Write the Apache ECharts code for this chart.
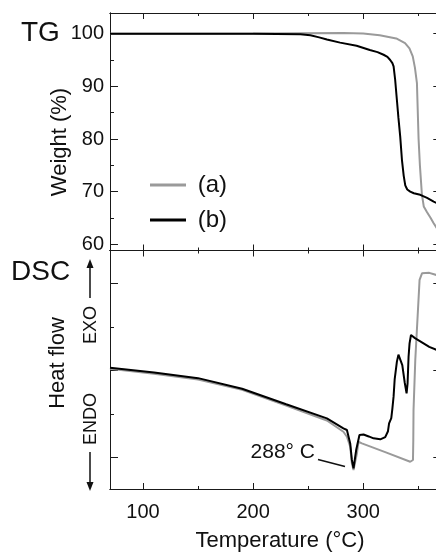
<!DOCTYPE html>
<html>
<head>
<meta charset="utf-8">
<script src="https://cdn.jsdelivr.net/npm/echarts@6.0.0/dist/echarts.min.js"></script>
<style>
  html, body { margin: 0; padding: 0; background: #fff; }
  #container { width: 436px; height: 552px; }
</style>
</head>
<body>
<div id="container"></div>
<script>
// TG curves, weight (%) against temperature (°C)
const tgTempA = [70, 150, 200, 240, 282, 300, 315, 330, 338, 342, 345, 347, 348.8, 350.3, 351.5, 353.3, 355, 358, 361, 364, 367];
const tgWeightA = [100, 100, 100.05, 100.1, 100.15, 100.05, 99.7, 99.1, 98.2, 97.2, 95.7, 93.5, 90.6, 80, 75, 69.5, 67.2, 66.1, 65.1, 64.0, 63.0];
const tgTempB = [70, 150, 200, 243, 252, 260, 267, 279, 294, 306, 313, 318.5, 322, 324.5, 326.5, 327.6, 329, 330.6, 332, 333.6, 335.2, 336.8, 338.2, 340, 342.7, 346, 351.8, 358, 364, 367];
const tgWeightB = [100, 100, 100, 99.9, 99.7, 99.3, 98.9, 98.3, 97.7, 96.9, 96.5, 96.0, 95.6, 95.0, 94.4, 93.8, 91.3, 87.4, 84, 80.5, 76, 73, 71.2, 70.4, 70.0, 69.7, 69.4, 68.8, 68.1, 67.8];

// DSC curves, heat flow (arbitrary units, one major tick = 1)
const dscTempA = [70, 110, 150, 190, 230, 267, 282, 285.2, 288.2, 289.7, 291.2, 292.7, 294.3, 295.7, 298.8, 320, 342.7, 345.2, 345.5, 345.7, 347.3, 351.2, 353.4, 354.8, 360, 367];
const dscA = [1.018, 0.96, 0.895, 0.775, 0.595, 0.423, 0.294, 0.237, 0.122, -0.069, -0.146, -0.126, 0.046, 0.179, 0.161, 0.06, -0.051, -0.031, 0.2, 0.54, 1.118, 2.04, 2.115, 2.133, 2.12, 2.093];
const dscTempB = [70, 110, 150, 190, 230, 267, 282, 285.2, 288.2, 289.7, 291.2, 293.6, 296.6, 300.3, 305, 309.4, 315.5, 320, 322.5, 323.5, 325.5, 326.5, 327.6, 328.6, 330.6, 332, 333.6, 335.5, 337.7, 339.4, 340.3, 341.2, 342.1, 343.4, 347, 354.8, 360, 367];
const dscB = [1.03, 0.975, 0.91, 0.788, 0.61, 0.448, 0.333, 0.314, 0.16, -0.03, -0.126, 0.084, 0.256, 0.262, 0.24, 0.218, 0.207, 0.233, 0.3, 0.39, 0.45, 0.56, 0.7, 0.9, 1.1, 1.18, 1.195, 1.06, 0.86, 0.736, 0.85, 1.156, 1.31, 1.406, 1.37, 1.31, 1.27, 1.232];

// ticks
const tempMajor = [100, 200, 300];
const tempMinor = [150, 250, 350];
const weightMajor = [60, 70, 80, 90, 100];
const weightMinor = [65, 75, 85, 95];
const heatMajor = [0, 1, 2];
const heatMinor = [0.5, 1.5];

const zip = (xs, ys) => xs.map((x, i) => [x, ys[i]]);

const ink = '#1a1a1a';
const grayLine = '#9a9a9a';
const font = 'Liberation Sans, Arial, sans-serif';

function xAx(gridIndex, position, ticks, len, labels) {
    return {
        type: 'value', gridIndex: gridIndex, position: position,
        min: 70, max: 367.3,
        axisLine: { show: true, onZero: false, lineStyle: { color: ink, width: 1 } },
        axisTick: { show: true, inside: true, length: len, customValues: ticks, lineStyle: { color: ink, width: 1 } },
        axisLabel: labels ? { show: true, customValues: labels, margin: 13, fontSize: 20, color: '#111', fontFamily: font } : { show: false },
        splitLine: { show: false }
    };
}

function yAx(gridIndex, position, min, max, ticks, len, labels, showLine) {
    return {
        type: 'value', gridIndex: gridIndex, position: position,
        min: min, max: max,
        axisLine: { show: showLine, onZero: false, lineStyle: { color: ink, width: 1 } },
        axisTick: { show: true, inside: true, length: len, customValues: ticks, lineStyle: { color: ink, width: 1 } },
        axisLabel: labels ? { show: true, customValues: labels, margin: 6, fontSize: 20, color: '#111', fontFamily: font } : { show: false },
        splitLine: { show: false }
    };
}

const tgMin = 58.82, tgMax = 103.93;
const hfMin = -0.364, hfMax = 2.377;

const myChart = echarts.init(document.getElementById('container'));
const option = {
    animation: false,
    backgroundColor: '#fff',
    textStyle: { fontFamily: font },
    grid: [
        { left: 110, top: 13, width: 327.3, height: 237.5, outerBoundsMode: 'none' },
        { left: 110, top: 250.5, width: 327.3, height: 238.5, outerBoundsMode: 'none' }
    ],
    xAxis: [
        xAx(0, 'bottom', tempMajor, 6),
        xAx(0, 'bottom', tempMinor, 3),
        xAx(0, 'top', tempMajor, 6),
        xAx(0, 'top', tempMinor, 3),
        xAx(1, 'bottom', tempMajor, 6, tempMajor),
        xAx(1, 'bottom', tempMinor, 3),
        xAx(1, 'top', tempMajor, 6),
        xAx(1, 'top', tempMinor, 3)
    ],
    yAxis: [
        yAx(0, 'left', tgMin, tgMax, weightMajor, 8, weightMajor, true),
        yAx(0, 'left', tgMin, tgMax, weightMinor, 4, null, true),
        yAx(0, 'right', tgMin, tgMax, weightMajor, 4, null, false),
        yAx(1, 'left', hfMin, hfMax, heatMajor, 8, null, true),
        yAx(1, 'left', hfMin, hfMax, heatMinor, 4, null, true),
        yAx(1, 'right', hfMin, hfMax, heatMajor, 4, null, false)
    ],
    legend: {
        orient: 'vertical',
        left: 150, top: 173, padding: 0,
        itemWidth: 36, itemHeight: 3, itemGap: 11,
        icon: 'rect',
        data: ['(a)', '(b)'],
        formatter: ' {name}',
        textStyle: { fontSize: 24, color: '#111', fontFamily: font }
    },
    series: [
        {
            name: '(a)', type: 'line', xAxisIndex: 0, yAxisIndex: 0,
            data: zip(tgTempA, tgWeightA), showSymbol: false, symbol: 'none',
            color: grayLine, lineStyle: { color: grayLine, width: 2 }
        },
        {
            name: '(b)', type: 'line', xAxisIndex: 0, yAxisIndex: 0,
            data: zip(tgTempB, tgWeightB), showSymbol: false, symbol: 'none',
            color: '#000', lineStyle: { color: '#000', width: 2 }
        },
        {
            name: 'DSC (a)', type: 'line', xAxisIndex: 4, yAxisIndex: 3,
            data: zip(dscTempA, dscA), showSymbol: false, symbol: 'none',
            color: grayLine, lineStyle: { color: grayLine, width: 2 }
        },
        {
            name: 'DSC (b)', type: 'line', xAxisIndex: 4, yAxisIndex: 3,
            data: zip(dscTempB, dscB), showSymbol: false, symbol: 'none',
            color: '#000', lineStyle: { color: '#000', width: 2 }
        }
    ],
    graphic: [
        { type: 'text', x: 21, y: 33, style: { text: 'TG', fontSize: 28, fontFamily: font, fill: '#111', verticalAlign: 'middle' } },
        { type: 'text', x: 11, y: 272, style: { text: 'DSC', fontSize: 28, fontFamily: font, fill: '#111', verticalAlign: 'middle' } },
        { type: 'text', x: 60, y: 142, rotation: Math.PI / 2, style: { text: 'Weight (%)', fontSize: 22, fontFamily: font, fill: '#111', align: 'center', verticalAlign: 'middle' } },
        { type: 'text', x: 58, y: 363, rotation: Math.PI / 2, style: { text: 'Heat flow', fontSize: 22, fontFamily: font, fill: '#111', align: 'center', verticalAlign: 'middle' } },
        { type: 'text', x: 91, y: 325, rotation: Math.PI / 2, style: { text: 'EXO', fontSize: 18, fontFamily: font, fill: '#111', align: 'center', verticalAlign: 'middle' } },
        { type: 'text', x: 91, y: 419, rotation: Math.PI / 2, style: { text: 'ENDO', fontSize: 18, fontFamily: font, fill: '#111', align: 'center', verticalAlign: 'middle' } },
        { type: 'line', shape: { x1: 90, y1: 298, x2: 90, y2: 267 }, style: { stroke: '#111', lineWidth: 1.5 } },
        { type: 'polygon', shape: { points: [[90, 259], [86.5, 268], [93.5, 268]] }, style: { fill: '#111' } },
        { type: 'line', shape: { x1: 90, y1: 452, x2: 90, y2: 484 }, style: { stroke: '#111', lineWidth: 1.5 } },
        { type: 'polygon', shape: { points: [[90, 491], [86.5, 482], [93.5, 482]] }, style: { fill: '#111' } },
        { type: 'text', x: 280, y: 541, style: { text: 'Temperature (°C)', fontSize: 22, fontFamily: font, fill: '#111', align: 'center', verticalAlign: 'middle' } },
        { type: 'text', x: 315, y: 452, style: { text: '288° C', fontSize: 21, fontFamily: font, fill: '#111', align: 'right', verticalAlign: 'middle' } },
        { type: 'line', shape: { x1: 318, y1: 459.5, x2: 345, y2: 466.5 }, style: { stroke: '#111', lineWidth: 1.5 } }
    ]
};
myChart.setOption(option);
window.addEventListener('resize', () => {
    myChart.resize()
})
</script>
</body>
</html>
